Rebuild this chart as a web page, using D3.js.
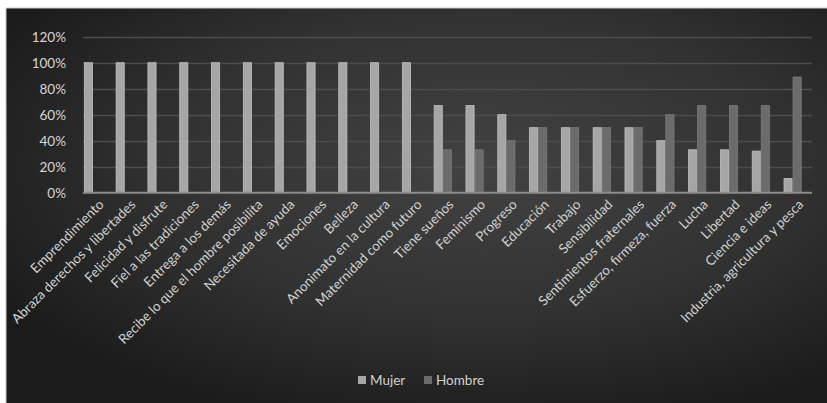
<!DOCTYPE html>
<html>
<head>
<meta charset="utf-8">
<script src="https://cdn.jsdelivr.net/npm/d3@7"></script>
<style>
  html, body { margin: 0; padding: 0; background: #ffffff; }
  svg { display: block; }
  text { font-family: Lato, "Open Sans", sans-serif; }
</style>
</head>
<body>
<svg id="chart" width="827" height="403"></svg>
<script>
const categories = [
  "Emprendimiento", "Abraza derechos y libertades", "Felicidad y disfrute",
  "Fiel a las tradiciones", "Entrega a los demás", "Recibe lo que el hombre posibilita",
  "Necesitada de ayuda", "Emociones", "Belleza", "Anonimato en la cultura",
  "Maternidad como futuro", "Tiene sueños", "Feminismo", "Progreso", "Educación",
  "Trabajo", "Sensibilidad", "Sentimientos fraternales", "Esfuerzo, firmeza, fuerza",
  "Lucha", "Libertad", "Ciencia e ideas", "Industria, agricultura y pesca"
];
const seriesNames = ["Mujer", "Hombre"];
const mujer  = [1, 1, 1, 1, 1, 1, 1, 1, 1, 1, 1, 0.67, 0.67, 0.60, 0.50, 0.50, 0.50, 0.50, 0.40, 0.33, 0.33, 0.32, 0.11];
const hombre = [0, 0, 0, 0, 0, 0, 0, 0, 0, 0, 0, 0.33, 0.33, 0.40, 0.50, 0.50, 0.50, 0.50, 0.60, 0.67, 0.67, 0.67, 0.89];
const yTicks = [0, 0.2, 0.4, 0.6, 0.8, 1.0, 1.2];
const colors = { Mujer: "#a6a6a6", Hombre: "#6b6b6b" };

const svg = d3.select("#chart");
const defs = svg.append("defs");
const grad = defs.append("radialGradient").attr("id", "bg")
  .attr("cx", "58%").attr("cy", "40%").attr("r", "68%");
grad.append("stop").attr("offset", "0%").attr("stop-color", "#424242");
grad.append("stop").attr("offset", "55%").attr("stop-color", "#323232");
grad.append("stop").attr("offset", "100%").attr("stop-color", "#1b1b1b");

// chart frame
svg.append("rect").attr("x", 6).attr("y", 8).attr("width", 821).attr("height", 395)
  .attr("fill", "url(#bg)");
svg.append("line").attr("x1", 6).attr("x2", 827).attr("y1", 8).attr("y2", 8)
  .attr("stroke", "#c8c8c8").attr("stroke-width", 1);
svg.append("line").attr("x1", 6).attr("x2", 6).attr("y1", 8).attr("y2", 403)
  .attr("stroke", "#c8c8c8").attr("stroke-width", 1);

const y = d3.scaleLinear().domain([0, 1.2]).range([192.7, 36.7]);
const x0 = d3.scaleBand().domain(categories).range([77, 808.5]).paddingInner(0.46).paddingOuter(0.23);
const x1 = d3.scaleBand().domain(seriesNames).range([0, x0.bandwidth()]).paddingInner(0.1);

const axisX0 = 83, axisX1 = 812;

// gridlines
svg.append("g").selectAll("line").data(yTicks.slice(1)).join("line")
  .attr("x1", axisX0).attr("x2", axisX1)
  .attr("y1", d => Math.round(y(d)) + 0.5).attr("y2", d => Math.round(y(d)) + 0.5)
  .attr("stroke", "#4d4d4d").attr("stroke-width", 1.5);

// y tick labels
svg.append("g").selectAll("text").data(yTicks).join("text")
  .attr("x", 66).attr("y", d => y(d)).attr("dy", "0.36em")
  .attr("text-anchor", "end").attr("fill", "#d6d6d6").attr("font-size", 13.5)
  .text(d => d3.format(".0%")(d));

// bars
const data = categories.map((c, i) => ({ cat: c, vals: [
  { key: "Mujer", v: mujer[i] }, { key: "Hombre", v: hombre[i] } ] }));

const groups = svg.append("g").selectAll("g").data(data).join("g")
  .attr("transform", d => `translate(${x0(d.cat)},0)`);
groups.selectAll("rect").data(d => d.vals.filter(e => e.v > 0)).join("rect")
  .attr("x", d => x1(d.key)).attr("width", x1.bandwidth())
  .attr("y", d => y(d.v)).attr("height", d => y(0) - y(d.v))
  .attr("fill", d => colors[d.key])
  .attr("stroke", d => d.key === "Mujer" ? "#c2c2c2" : "#7c7c7c").attr("stroke-width", 0.8);

// x axis line
svg.append("line").attr("x1", axisX0).attr("x2", axisX1)
  .attr("y1", y(0)).attr("y2", y(0))
  .attr("stroke", "#8c8c8c").attr("stroke-width", 2);

// category labels
svg.append("g").selectAll("text").data(categories).join("text")
  .attr("transform", d => `translate(${x0(d) + x0.bandwidth() / 2 + 5},${y(0) + 6}) rotate(-45)`)
  .attr("text-anchor", "end").attr("dy", "0.7em")
  .attr("fill", "#d2d2d2").attr("font-size", 13.4)
  .text(d => d);

// legend
const legend = svg.append("g");
const legendItems = [{ key: "Mujer", x: 358 }, { key: "Hombre", x: 424 }];
legendItems.forEach(it => {
  legend.append("rect").attr("x", it.x).attr("y", 376).attr("width", 8).attr("height", 8)
    .attr("fill", colors[it.key]);
  legend.append("text").attr("x", it.x + 12).attr("y", 380).attr("dy", "0.36em")
    .attr("fill", "#d2d2d2").attr("font-size", 13.5).text(it.key);
});
</script>
</body>
</html>
